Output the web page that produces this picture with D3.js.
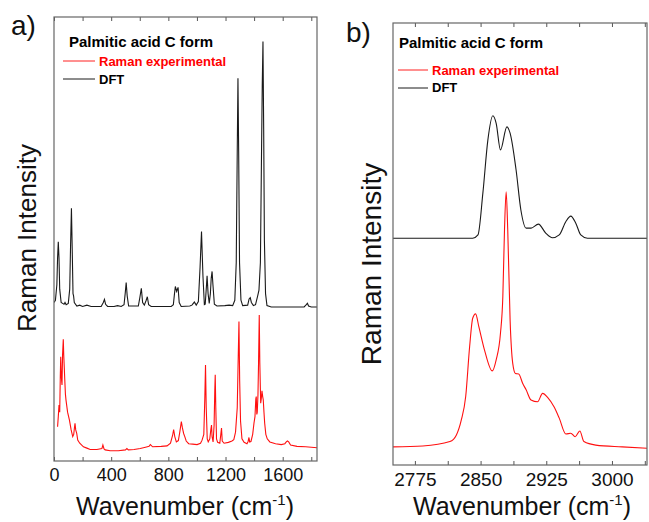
<!DOCTYPE html>
<html>
<head>
<meta charset="utf-8">
<script src="https://cdn.jsdelivr.net/npm/d3@7"></script>
<style>
  body { margin: 0; background: #fff; }
  svg text { font-family: "Liberation Sans", Arial, sans-serif; }
</style>
</head>
<body>
<div id="chart"></div>
<script>
// Chart text
const panelTitle = "Palmitic acid C form";
const seriesNames = ["Raman experimental", "DFT"];
const panelLetters = ["a)", "b)"];

// Tick values (wavenumber, cm-1)
const ticksA = [0, 200, 400, 600, 800, 1000, 1200, 1400, 1600, 1800];
const labelsA = [0, 400, 800, 1200, 1600];
const ticksB = [2775, 2812.5, 2850, 2887.5, 2925, 2962.5, 3000, 3037.5];
const labelsB = [2775, 2850, 2925, 3000];

// Panel a: experimental Raman, [wavenumber, intensity]
const ramanA = [
  [25, 7.7], [30, 10], [35, 12.6], [40, 11], [44, 19], [47, 23.5], [51, 19], [56, 17.1],
  [60, 24], [65, 27.4], [68, 24], [72, 21], [75, 18.6], [80, 15], [84, 13.7], [95, 11],
  [108, 9.2], [120, 7], [131, 5.5], [138, 6], [143, 7.5], [147, 8.5], [152, 7], [159, 6.2],
  [166, 4.7], [180, 4], [206, 3.2], [230, 2.9], [253, 2.6], [300, 2.6], [335, 2.8], [342, 3.6],
  [350, 2.7], [358, 2.5], [393, 2.3], [450, 2.3], [500, 2.5], [510, 2.8], [520, 2.5], [560, 2.6],
  [603, 2.8], [640, 3.1], [665, 3.3], [674, 3.7], [690, 3.2], [750, 3.3], [791, 3.4], [815, 4],
  [830, 5.8], [837, 7.1], [845, 5.5], [856, 4.3], [870, 4.6], [880, 6.5], [891, 8.9], [898, 7.5],
  [907, 6.2], [915, 5.5], [925, 4.5], [942, 3.9], [970, 3.8], [1001, 3.7], [1025, 4], [1036, 4.7],
  [1048, 6], [1055, 14], [1060, 21.6], [1065, 12], [1072, 5], [1079, 4.3], [1090, 5], [1097, 7],
  [1102, 8.1], [1106, 5.5], [1113, 4.3], [1120, 8], [1125, 16], [1128, 19.4], [1132, 12], [1137, 5],
  [1145, 4.2], [1160, 4], [1167, 6], [1172, 7.4], [1177, 4.5], [1190, 4], [1220, 4.2], [1245, 4.5],
  [1258, 4.8], [1270, 6.5], [1282, 12], [1288, 22], [1294, 31.4], [1299, 18], [1305, 9], [1315, 5],
  [1330, 4.2], [1350, 3.9], [1358, 4.4], [1364, 5.3], [1369, 4.3], [1378, 4.4], [1390, 6], [1399, 8.5],
  [1406, 10], [1412, 14], [1415, 14.5], [1419, 10.5], [1422, 11], [1427, 14.9], [1431, 22], [1436, 32.9],
  [1440, 22], [1446, 13], [1450, 14], [1455, 15.8], [1460, 14.5], [1464, 13.8], [1469, 11], [1474, 8.5],
  [1482, 6], [1492, 5], [1510, 4.3], [1550, 3.9], [1590, 3.7], [1615, 3.9], [1625, 4.3], [1633, 4.5],
  [1642, 4.3], [1655, 3.6], [1700, 3.3], [1760, 3.2], [1800, 3.1], [1840, 3.0]
];

// Panel a: DFT spectrum, intensity above its own baseline
const dftA = [
  [0, 1.0], [10, 1.5], [20, 5], [25, 11], [30, 14.7], [35, 11], [40, 4], [50, 1.0], [60, 0.8],
  [70, 0.6], [77, 1.0], [85, 0.5], [100, 0.8], [110, 4], [116, 14], [122, 22.2], [128, 12], [133, 3],
  [137, 2.5], [142, 1], [160, 0.2], [180, 0.4], [200, 0.1], [230, 0.4], [260, 0.1], [330, 0.1],
  [345, 1], [353, 1.7], [361, 0.6], [375, 0.1], [420, 0.1], [445, 0.3], [470, 0.1], [490, 0.5],
  [498, 3], [505, 5.5], [512, 2.5], [522, 0.2], [590, 0.2], [600, 2], [611, 4.2], [620, 1],
  [632, 0.4], [645, 1.5], [653, 2.3], [662, 0.5], [680, 0.1], [820, 0.1], [835, 0.5], [843, 3],
  [849, 4.6], [858, 3.5], [868, 4.4], [876, 1], [890, 0.1], [950, 0.2], [965, 0.4], [982, 1.1],
  [995, 0.4], [1010, 1.2], [1022, 9], [1032, 17.0], [1042, 7], [1052, 0.5], [1058, 0.6], [1065, 4],
  [1071, 7.0], [1078, 3], [1086, 0.8], [1094, 3], [1100, 6.5], [1106, 8.0], [1112, 5], [1122, 0.6],
  [1140, 0.2], [1195, 0.3], [1225, 0.4], [1250, 0.3], [1265, 1.5], [1275, 10], [1282, 35], [1287, 51.5],
  [1292, 35], [1298, 10], [1308, 1.5], [1320, 0.3], [1355, 0.4], [1365, 1.8], [1373, 2.1], [1381, 1],
  [1395, 0.3], [1410, 0.5], [1425, 2.5], [1434, 3.8], [1444, 10], [1452, 35], [1457, 50], [1462, 59.8],
  [1467, 40], [1472, 15], [1480, 3], [1490, 0.3], [1520, 0], [1750, 0], [1765, 0.5], [1773, 0.8],
  [1781, 0.2], [1800, 0], [1840, 0]
];

// Panel b: experimental Raman (C-H stretch region)
const ramanB = [
  [2750, 4.1], [2784, 4.3], [2815, 5.3], [2822.4, 6.8], [2828, 10.2], [2833, 15.5], [2837.5, 26.8],
  [2841, 33.2], [2844.3, 34.2], [2848, 31.3], [2854.5, 26.0], [2863.3, 21.3], [2867.8, 23.8],
  [2872.7, 29.8], [2875.4, 38.1], [2877.3, 53.2], [2879.2, 61.8], [2881, 53.2], [2883.7, 32.8],
  [2886.7, 23.0], [2889.8, 20.7], [2893.5, 20.6], [2898, 18.5], [2902, 17.0], [2907.6, 14.7],
  [2915, 14.3], [2920.8, 16.2], [2926.5, 15.3], [2934, 13.1], [2939.8, 10.6], [2947.4, 7.0],
  [2953, 7.2], [2958, 6.4], [2963.3, 7.7], [2968, 5.3], [2981.5, 4.5], [3011.7, 4.1], [3040, 3.8]
];

// Panel b: DFT spectrum, intensity above its own baseline
const dftB = [
  [2750, 0], [2841, 0], [2847, 0.75], [2852.6, 10.2], [2858.3, 22.2], [2864, 27.7], [2867.8, 26.0],
  [2872.7, 20.0], [2880, 25.2], [2883.7, 23.8], [2890.5, 15.5], [2896, 6.4], [2902, 2.3],
  [2907.6, 2.3], [2916, 3.2], [2924.6, 1.1], [2932, 0.1], [2939.8, 0.75], [2947.4, 3.8],
  [2953, 5.0], [2958.7, 3.4], [2964.4, 0.75], [2972, 0], [3040, 0]
];

const width = 649, height = 522;
const svg = d3.select("#chart").append("svg")
  .attr("width", width)
  .attr("height", height);

const panels = [
  {
    letter: panelLetters[0], raman: ramanA, dft: dftA, dftOffset: 34.7,
    xDomain: [0, 1840], ticks: ticksA, labels: labelsA,
    left: 54, right: 317, top: 17, bottom: 461,
    curve: d3.curveLinear, tickFont: 18, tickPad: 7, yLabelFont: 26, yLabelX: 36, yLabelY: 238,
    xTitleX: 185, letterX: 11, letterY: 35,
    legendX: 69, titleY: 47, rowY: [65.5, 83.5], lineX: [63, 95], lineY: [61, 79]
  },
  {
    letter: panelLetters[1], raman: ramanB, dft: dftB, dftOffset: 51.3,
    xDomain: [2750, 3040], ticks: ticksB, labels: labelsB,
    left: 393, right: 647, top: 23, bottom: 465,
    curve: d3.curveMonotoneX, tickFont: 19, tickPad: 8, yLabelFont: 28, yLabelX: 381, yLabelY: 264,
    xTitleX: 522, letterX: 346, letterY: 42,
    legendX: 399, titleY: 48, rowY: [75, 92], lineX: [398, 428], lineY: [70, 88]
  }
];

panels.forEach((p, i) => {
  const x = d3.scaleLinear().domain(p.xDomain).range([p.left, p.right]);
  const y = d3.scaleLinear().domain([0, 100]).range([p.bottom, p.top]);
  const g = svg.append("g");

  // Clip the traces to the frame
  g.append("clipPath").attr("id", "clip" + i)
    .append("rect")
    .attr("x", p.left).attr("y", p.top)
    .attr("width", p.right - p.left).attr("height", p.bottom - p.top);

  const line = d3.line()
    .x(d => x(d[0]))
    .y(d => y(d[1]))
    .curve(p.curve);

  g.append("path")
    .datum(p.raman)
    .attr("clip-path", `url(#clip${i})`)
    .attr("fill", "none")
    .attr("stroke", "#ff1010")
    .attr("stroke-width", 1.1)
    .attr("d", line);

  g.append("path")
    .datum(p.dft.map(d => [d[0], d[1] + p.dftOffset]))
    .attr("clip-path", `url(#clip${i})`)
    .attr("fill", "none")
    .attr("stroke", "#1a1a1a")
    .attr("stroke-width", 1.1)
    .attr("d", line);

  // Bottom axis (ticks pointing in)
  const fmt = d => p.labels.includes(d) ? d : "";
  const bottomAxis = g.append("g")
    .attr("transform", `translate(0,${p.bottom})`)
    .call(d3.axisBottom(x).tickValues(p.ticks).tickSize(-4).tickPadding(p.tickPad).tickFormat(fmt));
  bottomAxis.select(".domain").remove();
  bottomAxis.selectAll("line").attr("stroke", "#555");
  bottomAxis.selectAll("text")
    .attr("fill", "#111")
    .style("font-size", p.tickFont + "px");

  // Top axis mirror ticks
  const topAxis = g.append("g")
    .attr("transform", `translate(0,${p.top})`)
    .call(d3.axisTop(x).tickValues(p.ticks).tickSize(-4).tickFormat(""));
  topAxis.select(".domain").remove();
  topAxis.selectAll("line").attr("stroke", "#555");

  // Frame
  g.append("rect")
    .attr("x", p.left).attr("y", p.top)
    .attr("width", p.right - p.left).attr("height", p.bottom - p.top)
    .attr("fill", "none")
    .attr("stroke", "#666")
    .attr("stroke-width", 1.2);

  // Axis titles
  const xt = g.append("text")
    .attr("x", p.xTitleX)
    .attr("y", 515)
    .attr("text-anchor", "middle")
    .attr("fill", "#111")
    .style("font-size", "25px")
    .text("Wavenumber (cm");
  xt.append("tspan").attr("dy", -10).style("font-size", "15px").text("-1");
  xt.append("tspan").attr("dy", 10).text(")");

  g.append("text")
    .attr("transform", `translate(${p.yLabelX},${p.yLabelY}) rotate(-90)`)
    .attr("text-anchor", "middle")
    .attr("fill", "#111")
    .style("font-size", p.yLabelFont + "px")
    .text("Raman Intensity");

  // Panel letter
  g.append("text")
    .attr("x", p.letterX).attr("y", p.letterY)
    .attr("fill", "#111")
    .style("font-size", "28px")
    .text(p.letter);

  // Legend
  g.append("text")
    .attr("x", p.legendX).attr("y", p.titleY)
    .attr("fill", "#000")
    .style("font-size", "15px")
    .style("font-weight", "bold")
    .text(panelTitle);

  const colors = ["#ff2020", "#1a1a1a"];
  seriesNames.forEach((name, k) => {
    g.append("line")
      .attr("x1", p.lineX[0]).attr("x2", p.lineX[1])
      .attr("y1", p.lineY[k]).attr("y2", p.lineY[k])
      .attr("stroke", colors[k])
      .attr("stroke-width", 1);
    g.append("text")
      .attr("x", p.lineX[1] + 4).attr("y", p.rowY[k])
      .attr("fill", k === 0 ? "#ff0000" : "#000")
      .style("font-size", "13px")
      .style("font-weight", "bold")
      .text(name);
  });
});
</script>
</body>
</html>
